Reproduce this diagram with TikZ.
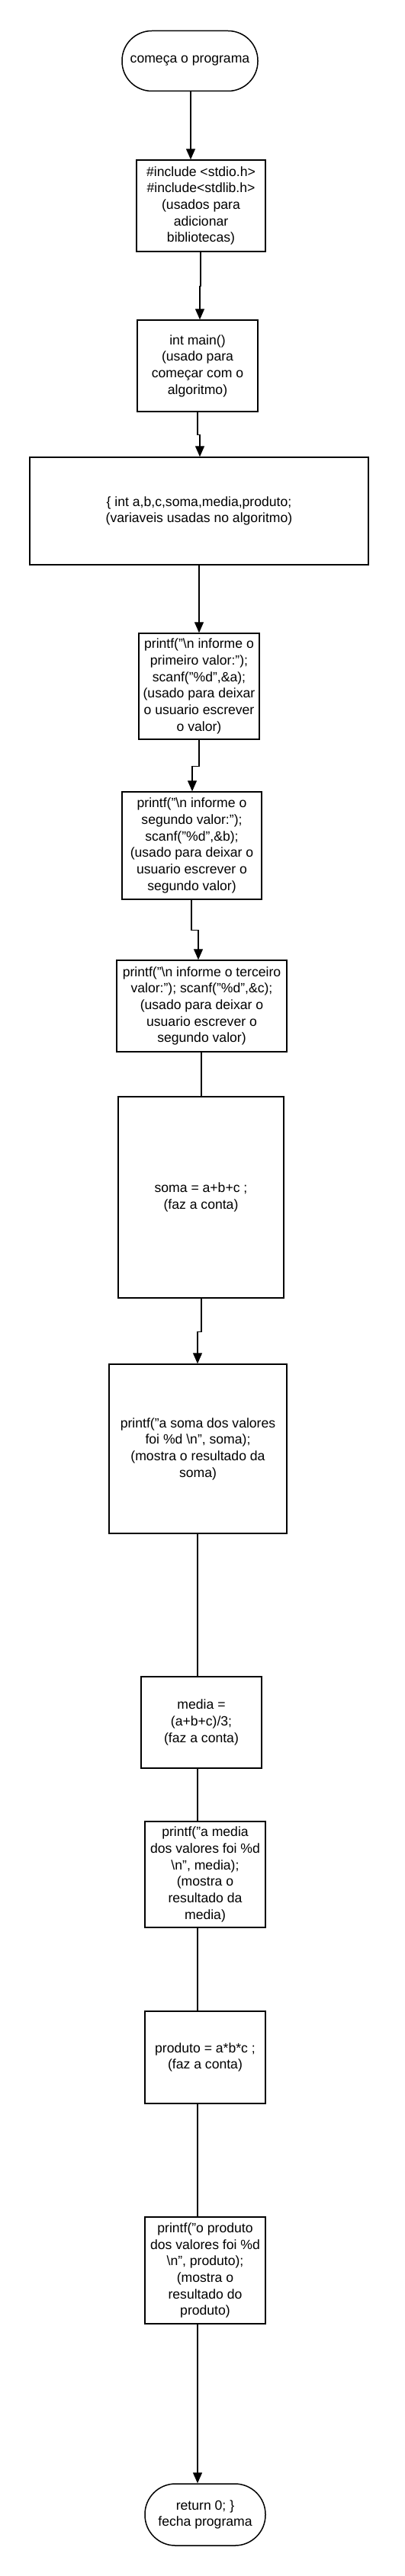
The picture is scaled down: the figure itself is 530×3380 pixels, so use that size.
\documentclass[tikz,border=0pt]{standalone}
\usepackage{fontspec}
\setmainfont{Liberation Sans}
\usetikzlibrary{arrows.meta}
\newcommand{\fsz}{\fontsize{17.6pt}{21.7pt}\selectfont}
\begin{document}
\begin{tikzpicture}[x=1pt,y=-1pt,
  box/.style={draw=black, line width=1.5pt, inner sep=0pt, align=center, font=\fsz, text=black},
  term/.style={box, rounded corners=39pt},
  arr/.style={draw=black, line width=1.3pt, -{Triangle[width=12pt,length=14pt]}},
  ln/.style={draw=black, line width=1.3pt}]
\useasboundingbox[fill=white] (0,0) rectangle (530,3380);

\node[term, minimum width=178pt, minimum height=79pt] (start) at (249,80) {começa o programa};
\node[box, minimum width=169pt, minimum height=120pt] (b1) at (263.5,270) {\#include <stdio.h>\\\#include<stdlib.h>\\(usados para\\adicionar\\bibliotecas)};
\node[box, minimum width=158pt, minimum height=120pt] (b2) at (259,480) {int main()\\(usado para\\começar com o\\algoritmo)};
\node[box, minimum width=444pt, minimum height=141pt] (b3) at (261,670.5) {\{ int a,b,c,soma,media,produto;\\(variaveis usadas no algoritmo)};
\node[box, minimum width=158pt, minimum height=139pt] (b4) at (261,900.5) {printf("\textbackslash n informe o\\primeiro valor:");\\scanf("\%d",\&a);\\(usado para deixar\\o usuario escrever\\o valor)};
\node[box, minimum width=183pt, minimum height=141pt] (b5) at (251.5,1109.5) {printf("\textbackslash n informe o\\segundo valor:");\\scanf("\%d",\&b);\\(usado para deixar o\\usuario escrever o\\segundo valor)};
\node[box, minimum width=223pt, minimum height=120pt] (b6) at (264.5,1320) {printf("\textbackslash n informe o terceiro\\valor:"); scanf("\%d",\&c);\\(usado para deixar o\\usuario escrever o\\segundo valor)};
\node[box, minimum width=217pt, minimum height=264pt] (b7) at (263.5,1571) {soma = a+b+c ;\\(faz a conta)};
\node[box, minimum width=233pt, minimum height=222pt] (b8) at (259.5,1901) {printf("a soma dos valores\\foi \%d \textbackslash n", soma);\\(mostra o resultado da\\soma)};
\node[box, minimum width=158pt, minimum height=120pt] (b9) at (264,2260) {media =\\(a+b+c)/3;\\(faz a conta)};
\node[box, minimum width=158pt, minimum height=139pt] (b10) at (269,2459.5) {printf("a media\\dos valores foi \%d\\\textbackslash n", media);\\(mostra o\\resultado da\\media)};
\node[box, minimum width=158pt, minimum height=121pt] (b11) at (269,2699.5) {produto = a*b*c ;\\(faz a conta)};
\node[box, minimum width=158pt, minimum height=140pt] (b12) at (269,2979) {printf("o produto\\dos valores foi \%d\\\textbackslash n", produto);\\(mostra o\\resultado do\\produto)};
\node[term, minimum width=158pt, minimum height=81pt, rounded corners=40pt] (end) at (269,3299.5) {return 0; \}\\fecha programa};

\draw[arr] ([xshift=1pt]start.south) -- ([xshift=1pt]start.south |- b1.north);
\draw[arr] ([xshift=-0.5pt]b1.south) -- ++(0,45) -| ([xshift=3pt]b2.north);
\draw[arr] (b2.south) -- ++(0,30) -| ([xshift=1pt]b3.north);
\draw[arr] (b3.south) -- (b4.north);
\draw[arr] (b4.south) -- ++(0,35) -| ([xshift=0.5pt]b5.north);
\draw[arr] ([xshift=-0.5pt]b5.south) -- ++(0,40) -| ([xshift=-4.5pt]b6.north);
\draw[ln] ([xshift=-0.5pt]b6.south) -- ([xshift=0.5pt]b7.north);
\draw[arr] ([xshift=0.5pt]b7.south) -- ++(0,44) -| ([xshift=-0.5pt]b8.north);
\draw[ln] ([xshift=-0.5pt]b8.south) -- ([xshift=-5pt]b9.north);
\draw[ln] ([xshift=-5pt]b9.south) -- ([xshift=-10pt]b10.north);
\draw[ln] ([xshift=-10pt]b10.south) -- ([xshift=-10pt]b11.north);
\draw[ln] ([xshift=-10pt]b11.south) -- ([xshift=-10pt]b12.north);
\draw[arr] ([xshift=-10pt]b12.south) -- ([xshift=-10pt]end.north);
\end{tikzpicture}
\end{document}
